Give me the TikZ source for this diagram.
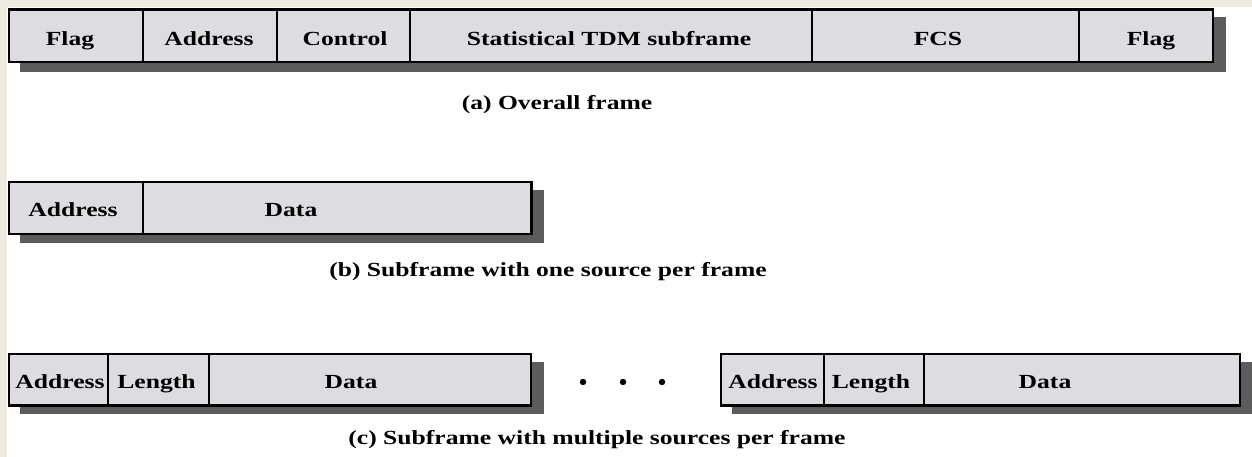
\documentclass[tikz,border=0pt]{standalone}
\usepackage{fontspec}
\setmainfont{Liberation Serif}
\usepackage{xcolor}
\usepackage{tikz}
\usetikzlibrary{positioning}

\definecolor{paper}{HTML}{EDEBE0}
\definecolor{fieldgray}{HTML}{DDDCE0}
\definecolor{shadowgray}{HTML}{5C5C5C}
\newcommand{\wideb}[1]{\scalebox{1.28}[1]{\bfseries #1}}

\tikzset{
  fieldlabel/.style={anchor=base,inner sep=0pt,font=\fontsize{20}{22}\selectfont},
  framebox/.style={fill=fieldgray,draw=black,line width=2.5pt},
  divider/.style={line width=2.5pt},
  shadowbox/.style={fill=shadowgray},
}

\begin{document}
\begin{tikzpicture}[x=1pt,y=-1pt]
\useasboundingbox (0,0) rectangle (1252,457);
\fill[white] (0,0) rectangle (1252,457);
\fill[paper] (0,0) rectangle (1252,7);
\fill[paper] (0,0) rectangle (7,457);
% (a) overall frame
\fill[shadowbox] (20,17) rectangle (1226,72);
\draw[framebox] (9,9.5) rectangle (1213,62);
\foreach \x in {143,277,410,812,1079} {\draw[divider] (\x,9.5)--(\x,62);}
\foreach \x/\lab/\n in {70/Flag/flagA,209/Address/addrA,345/Control/ctrlA,609/Statistical TDM subframe/tdmA,938/FCS/fcsA,1151/Flag/flagB}
  {\node[fieldlabel] (\n) at (\x,46) {\wideb{\lab}};}
\node[fieldlabel] (capA) at (557,110) {\wideb{(a) Overall frame}};
% (b) one source per frame
\fill[shadowbox] (20,190) rectangle (544,243);
\draw[framebox] (9,182) rectangle (531.5,234);
\draw[divider] (143,182)--(143,234);
\node[fieldlabel] (addrB) at (73,216) {\wideb{Address}};
\node[fieldlabel] (dataB) at (291,216) {\wideb{Data}};
\node[fieldlabel] (capB) at (548,276) {\wideb{(b) Subframe with one source per frame}};
% (c) multiple sources per frame
\fill[shadowbox] (20,362) rectangle (544,414);
\draw[framebox] (9,354) rectangle (531,405.5);
\foreach \x in {108,209} {\draw[divider] (\x,354)--(\x,405.5);}
\fill[shadowbox] (732,362) rectangle (1253,414);
\draw[framebox] (721,354) rectangle (1240,405.5);
\foreach \x in {824,924} {\draw[divider] (\x,354)--(\x,405.5);}
\foreach \x/\lab/\n in {60/Address/addrC,156.5/Length/lenC,351/Data/dataC,773/Address/addrD,871/Length/lenD,1045/Data/dataD}
  {\node[fieldlabel] (\n) at (\x,388) {\wideb{\lab}};}
\foreach \x in {583,623,662} {\fill (\x,382) circle (3.2pt);}
\node[fieldlabel] (capC) at (597,444) {\wideb{(c) Subframe with multiple sources per frame}};
\end{tikzpicture}
\end{document}
